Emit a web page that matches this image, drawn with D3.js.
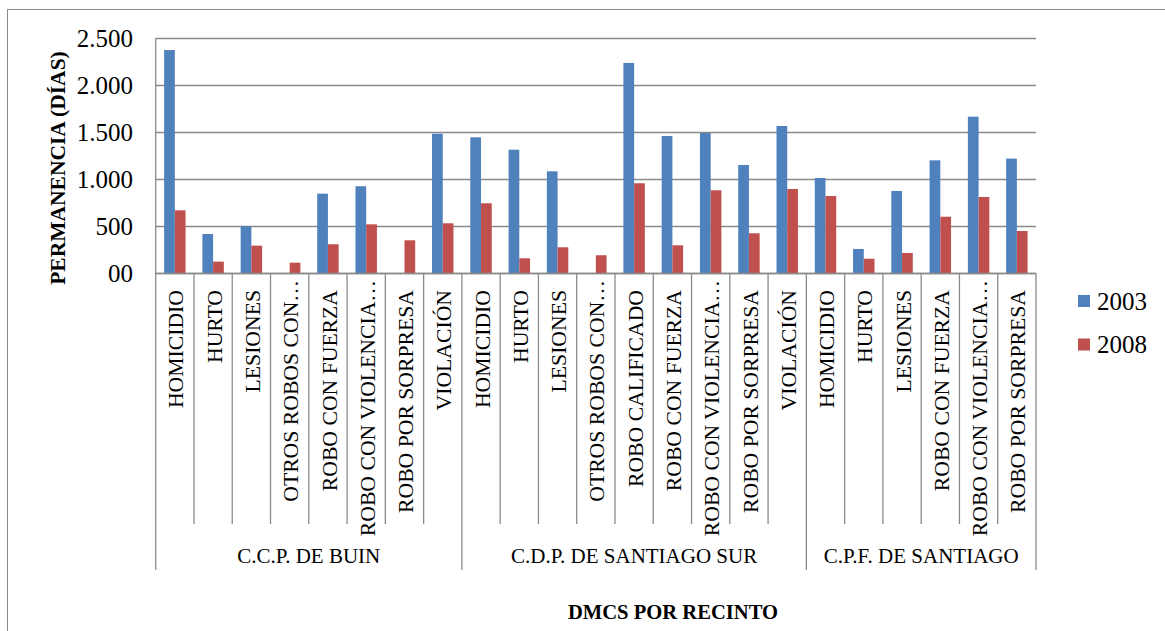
<!DOCTYPE html>
<html>
<head>
<meta charset="utf-8">
<script src="https://cdn.jsdelivr.net/npm/d3@7/dist/d3.min.js"></script>
<style>
  html, body { margin: 0; padding: 0; background: #fff; }
  svg { display: block; }
  text { font-family: "Liberation Serif", "Times New Roman", serif; fill: #000; }
</style>
</head>
<body>
<svg id="chart" width="1165" height="631"></svg>
<script>
// Recintos (outer category level) and offences (inner level)
const groups = ["C.C.P. DE BUIN", "C.D.P. DE SANTIAGO SUR", "C.P.F. DE SANTIAGO"];
const offencesBuin = ["HOMICIDIO", "HURTO", "LESIONES", "OTROS ROBOS CON…", "ROBO CON FUERZA", "ROBO CON VIOLENCIA…", "ROBO POR SORPRESA", "VIOLACIÓN"];
const offencesSantiagoSur = ["HOMICIDIO", "HURTO", "LESIONES", "OTROS ROBOS CON…", "ROBO CALIFICADO", "ROBO CON FUERZA", "ROBO CON VIOLENCIA…", "ROBO POR SORPRESA", "VIOLACIÓN"];
const offencesCpf = ["HOMICIDIO", "HURTO", "LESIONES", "ROBO CON FUERZA", "ROBO CON VIOLENCIA…", "ROBO POR SORPRESA"];

// Permanencia media (días) per offence, in the same order as above
const values2003 = [2375, 418, 500, 0, 847, 926, 0, 1485,
                    1447, 1315, 1085, 0, 2238, 1461, 1493, 1152, 1567,
                    1014, 259, 876, 1202, 1666, 1220];
const values2008 = [670, 124, 294, 113, 309, 521, 351, 532,
                    745, 160, 277, 192, 958, 298, 883, 426, 897,
                    822, 155, 216, 602, 812, 450];

const seriesNames = ["2003", "2008"];
const seriesColors = ["#4F81BD", "#C0504D"];
const yTicks = [0, 500, 1000, 1500, 2000, 2500];
const yTickLabels = ["00", "500", "1.000", "1.500", "2.000", "2.500"];

const yTitle = "PERMANENCIA (DÍAS)";
const xTitle = "DMCS POR RECINTO";

(function () {
  // Flatten into rows
  const groupOffences = [offencesBuin, offencesSantiagoSur, offencesCpf];
  const rows = [];
  groupOffences.forEach((list, gi) => {
    list.forEach(name => {
      const i = rows.length;
      rows.push({ key: gi + "|" + name, group: gi, name, v: [values2003[i], values2008[i]] });
    });
  });

  const svg = d3.select("#chart");
  const gridColor = "#8a8a8a";

  // Chart area border
  svg.append("rect")
    .attr("x", 7.5).attr("y", 9.5)
    .attr("width", 1200).attr("height", 700)
    .attr("fill", "none").attr("stroke", gridColor).attr("stroke-width", 1);

  const plotLeft = 155.7, plotRight = 1036, plotTop = 38.3, plotBottom = 273.3;
  const catBottom = 524, groupBottom = 570;

  const x = d3.scaleBand().domain(rows.map(r => r.key)).range([plotLeft, plotRight]).paddingInner(0).paddingOuter(0);
  const y = d3.scaleLinear().domain([0, 2500]).range([plotBottom, plotTop]);
  const barW = x.bandwidth() * 0.28;
  const xs = d3.scaleBand().domain([0, 1]).range([0, barW * 2]);

  // Gridlines
  svg.append("g").selectAll("line").data(yTicks).join("line")
    .attr("x1", plotLeft).attr("x2", plotRight)
    .attr("y1", d => Math.round(y(d)) + 0.5).attr("y2", d => Math.round(y(d)) + 0.5)
    .attr("stroke", gridColor).attr("stroke-width", 1.3);

  // Y tick labels
  svg.append("g").selectAll("text").data(yTicks).join("text")
    .attr("x", 133).attr("y", d => y(d))
    .attr("dy", "0.35em")
    .attr("text-anchor", "end")
    .style("font-size", "25px")
    .text((d, i) => yTickLabels[i]);

  // Bars
  const barG = svg.append("g");
  rows.forEach(r => {
    const cx = x(r.key) + x.bandwidth() / 2 - barW;
    r.v.forEach((val, si) => {
      if (val <= 0) return;
      barG.append("rect")
        .attr("x", cx + xs(si))
        .attr("y", y(val))
        .attr("width", xs.bandwidth())
        .attr("height", y(0) - y(val))
        .attr("fill", seriesColors[si]);
    });
  });

  // Category axis: baseline, separators and labels
  const axisG = svg.append("g");
  axisG.append("line")
    .attr("x1", plotLeft).attr("x2", plotRight)
    .attr("y1", Math.round(plotBottom) + 0.5).attr("y2", Math.round(plotBottom) + 0.5)
    .attr("stroke", gridColor).attr("stroke-width", 1.3);

  // Left value axis line extends down through the category rows
  axisG.append("line")
    .attr("x1", plotLeft).attr("x2", plotLeft)
    .attr("y1", plotTop).attr("y2", groupBottom)
    .attr("stroke", gridColor).attr("stroke-width", 1.3);

  const groupStarts = [];
  rows.forEach((r, i) => {
    if (i === 0 || rows[i - 1].group !== r.group) groupStarts.push(i);
  });
  rows.forEach((r, i) => {
    if (i === 0) return;
    const isGroupEdge = groupStarts.includes(i);
    axisG.append("line")
      .attr("x1", x(r.key)).attr("x2", x(r.key))
      .attr("y1", plotBottom).attr("y2", isGroupEdge ? groupBottom : catBottom)
      .attr("stroke", gridColor).attr("stroke-width", 1.3);
  });
  axisG.append("line")
    .attr("x1", plotRight).attr("x2", plotRight)
    .attr("y1", plotBottom).attr("y2", groupBottom)
    .attr("stroke", gridColor).attr("stroke-width", 1.3);

  // Offence labels, rotated; truncated names use the full row height
  axisG.selectAll("text.cat").data(rows).join("text")
    .attr("class", "cat")
    .attr("transform", d => `translate(${x(d.key) + x.bandwidth() / 2 + 1},${d.name.endsWith("…") ? 280 : 290}) rotate(-90)`)
    .attr("text-anchor", "end")
    .attr("dy", "0.35em")
    .style("font-size", "21.7px")
    .text(d => d.name);

  // Recinto labels
  groups.forEach((g, gi) => {
    const members = rows.filter(r => r.group === gi);
    const x0 = x(members[0].key);
    const x1 = x(members[members.length - 1].key) + x.bandwidth();
    axisG.append("text")
      .attr("x", (x0 + x1) / 2).attr("y", 556)
      .attr("dy", "0.35em")
      .attr("text-anchor", "middle")
      .style("font-size", "21px")
      .text(g);
  });

  // Axis titles
  svg.append("text")
    .attr("transform", "translate(57,168) rotate(-90)")
    .attr("text-anchor", "middle")
    .attr("dy", "0.35em")
    .style("font-size", "21.5px").style("font-weight", "bold")
    .text(yTitle);

  svg.append("text")
    .attr("x", 673).attr("y", 612)
    .attr("dy", "0.35em")
    .attr("text-anchor", "middle")
    .style("font-size", "20.6px").style("font-weight", "bold")
    .text(xTitle);

  // Legend
  const legend = svg.append("g");
  seriesNames.forEach((name, i) => {
    const ly = 301 + i * 43.5;
    legend.append("rect")
      .attr("x", 1078).attr("y", ly - 6)
      .attr("width", 12).attr("height", 12)
      .attr("fill", seriesColors[i]);
    legend.append("text")
      .attr("x", 1097).attr("y", ly)
      .attr("dy", "0.35em")
      .style("font-size", "25px")
      .text(name);
  });
})();
</script>
</body>
</html>
